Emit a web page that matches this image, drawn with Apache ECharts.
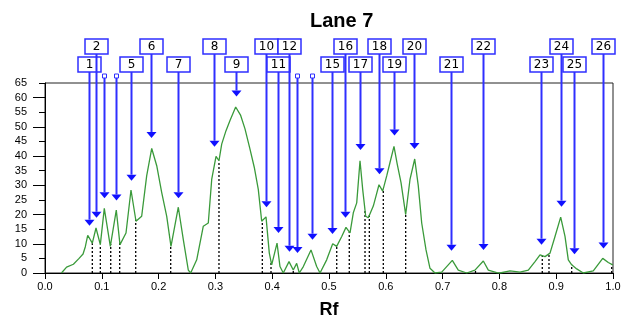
<!DOCTYPE html>
<html><head><meta charset="utf-8">
<script src="https://cdn.jsdelivr.net/npm/echarts@6/dist/echarts.min.js"></script>
<style>html,body{margin:0;padding:0;background:#fff}#c{width:627px;height:320px}</style>
</head><body><div id="c"></div>
<script>
// Densitometric trace (Rf, intensity)
const curveRf = [0.029,0.038,0.050,0.060,0.067,0.071,0.0752,0.0833,0.0898,0.0974,0.1044,0.115,0.1255,0.132,0.1426,0.1514,0.1602,0.1702,0.179,0.1879,0.1967,0.2055,0.2143,0.2218,0.2347,0.2435,0.2523,0.2565,0.2671,0.2787,0.2875,0.2935,0.3011,0.3063,0.3111,0.3187,0.3257,0.3357,0.3445,0.3521,0.3609,0.3685,0.3755,0.3815,0.3891,0.3949,0.3991,0.4085,0.4137,0.4195,0.4296,0.4371,0.4431,0.4477,0.4548,0.4683,0.4783,0.4842,0.4959,0.5065,0.5135,0.5224,0.5299,0.537,0.5428,0.5488,0.5546,0.5593,0.5646,0.5692,0.578,0.5827,0.588,0.5945,0.6016,0.6074,0.6144,0.6202,0.6268,0.635,0.6426,0.6509,0.6572,0.6632,0.6708,0.6778,0.6866,0.6984,0.7072,0.7171,0.7276,0.7424,0.757,0.7717,0.7805,0.7952,0.801,0.8187,0.8363,0.8509,0.8627,0.8715,0.8803,0.8891,0.8979,0.9079,0.9155,0.9213,0.9273,0.9361,0.9477,0.9653,0.9819,0.9917,0.9995];
const curveVal = [0,2.0,3.0,5.0,6.5,9.0,12.9,10.2,15.4,9.7,22.1,9.1,21.5,9.7,13.7,28.4,17.7,19.4,33.2,42.6,36.7,27.5,19.4,9.1,22.5,11.4,1.0,0,4.5,16.0,17.1,32.0,39.9,38.4,44.1,48.7,52.2,56.8,53.9,49.3,42.4,36.1,28.6,17.7,19.2,6.8,2.8,10.2,2.2,0,3.9,1.0,3.3,0,2.2,7.9,2.2,0,4.5,10.0,9.1,12.5,15.6,13.7,20.6,24.0,38.4,28.6,19.4,18.9,22.9,26.3,30.2,28.0,33.2,37.8,43.3,37.2,30.9,20.0,32.0,39.0,29.8,17.1,7.9,1.6,0,0.3,2.2,4.3,1.0,0,1.0,4.1,1.0,0.1,0,0.7,0.3,1.0,3.9,6.2,5.6,6.8,12.5,19.1,12.5,4.5,2.8,1.4,0,0.7,5.0,3.6,2.8];

// Peaks: number, Rf position, arrow tip level
const peakNo = [1,2,3,4,5,6,7,8,9,10,11,12,13,14,15,16,17,18,19,20,21,22,23,24,25,26];
const peakRf = [0.0769,0.0903,0.1039,0.125,0.1519,0.1861,0.2347,0.2981,0.3357,0.3891,0.4097,0.4301,0.4431,0.4695,0.5058,0.5287,0.5546,0.588,0.6139,0.6502,0.7153,0.7717,0.8732,0.9079,0.9313,0.9819];
const arrowVal = [16.2,18.9,25.6,24.8,31.6,46.2,25.6,43.2,60.4,22.5,13.7,7.3,6.8,11.4,13.3,18.9,42.1,33.8,47.0,42.4,7.6,7.9,9.7,22.7,6.4,8.4];
const hiddenPeaks = [3,4,13,14];

// Peak boundaries (dotted drop lines)
const boundaryRf = [0.0833,0.0974,0.1157,0.1315,0.1597,0.2213,0.3063,0.3826,0.3979,0.4371,0.5136,0.5357,0.5634,0.5710,0.5956,0.635,0.7579,0.8755,0.8873,0.9273,0.9977];

const yTicksMajor = [0,10,20,30,40,50,60];

function curveAt(x){
  for(let i=0;i<curveRf.length-1;i++){
    if(x>=curveRf[i] && x<=curveRf[i+1]){
      const t=(x-curveRf[i])/(curveRf[i+1]-curveRf[i]);
      return curveVal[i]+t*(curveVal[i+1]-curveVal[i]);
    }
  }
  return 0;
}

const curveData = curveRf.map((r,i)=>[r,curveVal[i]]);
let vis = 0;
const peakData = peakNo.map((n,i)=>{
  const hidden = hiddenPeaks.includes(n) ? 1 : 0;
  let row = -1;
  if(!hidden){ row = vis % 2 === 0 ? 0 : 1; vis++; }
  return [peakRf[i], arrowVal[i], n, hidden, row];
});
const boundaryData = boundaryRf.map(r=>[r, curveAt(r)]);

const BLUE='#2f2fff', ABLUE='#1010ff';
const chart = echarts.init(document.getElementById('c'), null, {renderer:'canvas'});
chart.setOption({
  animation:false,
  backgroundColor:'#fff',
  title:{text:'Lane 7', left:305, top:6, textStyle:{fontFamily:'Liberation Sans, Arial, sans-serif', fontWeight:'bold', fontSize:20, color:'#000'}},
  grid:{left:45, right:14, top:83, bottom:47, show:true, borderColor:'#222', borderWidth:1, backgroundColor:'transparent', outerBoundsMode:'none', containLabel:false},
  xAxis:{type:'value', min:0, max:1, interval:0.1, name:'Rf', nameLocation:'middle', nameGap:28,
    nameTextStyle:{fontFamily:'Liberation Sans, Arial, sans-serif', fontWeight:'bold', fontSize:18, color:'#000'},
    axisLine:{lineStyle:{color:'#000'}}, axisTick:{length:6, lineStyle:{color:'#000'}},
    axisLabel:{formatter:v=>v.toFixed(1), fontFamily:'Liberation Sans, Arial, sans-serif', fontSize:11, color:'#000', margin:8},
    splitLine:{show:false}},
  yAxis:[
    {type:'value', min:0, max:65, interval:5, position:'left',
     axisLine:{show:true, lineStyle:{color:'#000'}}, axisTick:{show:true, length:6, lineStyle:{color:'#000'}},
     axisLabel:{fontFamily:'Liberation Sans, Arial, sans-serif', fontSize:11, color:'#000', margin:18},
     splitLine:{show:false}},
    {type:'value', min:0, max:65, interval:10, position:'left',
     axisLine:{show:false}, axisTick:{show:true, length:12, customValues:yTicksMajor, lineStyle:{color:'#000'}},
     axisLabel:{show:false}, splitLine:{show:false}}
  ],
  series:[
    {type:'custom', coordinateSystem:'cartesian2d', data:boundaryData, z:2, silent:true,
     renderItem:(params, api)=>{
       const a=api.coord([api.value(0),0]), b=api.coord([api.value(0),api.value(1)]);
       return {type:'line', shape:{x1:a[0],y1:a[1],x2:b[0],y2:b[1]}, style:{stroke:'#000', lineWidth:1.3, lineDash:[2,2]}};
     }},
    {type:'line', data:curveData, showSymbol:false, z:3, lineStyle:{color:'#3a9a3a', width:1.3}},
    {type:'custom', coordinateSystem:'cartesian2d', data:peakData, z:4, clip:false, silent:true,
     renderItem:(params, api)=>{
       const rf=api.value(0), tip=api.value(1), n=api.value(2), hidden=api.value(3), row=api.value(4);
       const p=api.coord([rf,tip]);
       const gt=params.coordSys.y;
       const x=Math.round(p[0])+0.5;
       const ch=[];
       let lineTop;
       if(hidden){
         ch.push({type:'rect', shape:{x:x-2,y:gt-9,width:4,height:4}, style:{fill:'#fff', stroke:BLUE, lineWidth:1}});
         lineTop=gt-5;
         ch.push({type:'line', shape:{x1:x,y1:lineTop,x2:x,y2:p[1]-6}, style:{stroke:BLUE, lineWidth:2}});
       } else {
         const by = row===1 ? gt-44 : gt-26;
         lineTop = by+15;
         ch.push({type:'line', shape:{x1:x,y1:lineTop,x2:x,y2:p[1]-6}, style:{stroke:BLUE, lineWidth:2}});
         ch.push({type:'rect', shape:{x:x-11.5,y:by,width:23,height:15}, style:{fill:'#fff', stroke:BLUE, lineWidth:1.5}});
         ch.push({type:'text', style:{text:String(n), x:x, y:by+8, align:'center', verticalAlign:'middle', font:'12px "DejaVu Sans", Arial, sans-serif', fill:'#000'}});
       }
       ch.push({type:'polygon', shape:{points:[[x-5,p[1]-6],[x+5,p[1]-6],[x,p[1]]]}, style:{fill:ABLUE}});
       return {type:'group', children:ch};
     }}
  ]
});
</script></body></html>
